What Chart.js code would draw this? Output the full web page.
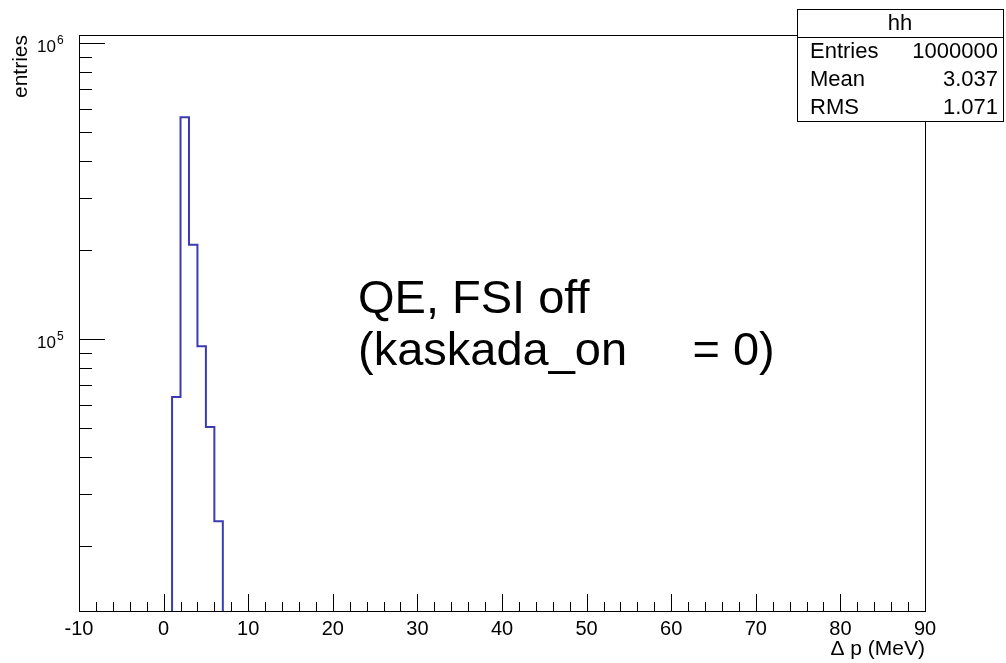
<!DOCTYPE html>
<html>
<head>
<meta charset="utf-8">
<script src="https://cdn.jsdelivr.net/npm/chart.js@4.4.1/dist/chart.umd.min.js"></script>
<style>
    body { margin: 0; background: #fff; }
    canvas { display: block; }
</style>
</head>
<body>
<canvas id="histChart" width="1006" height="663"></canvas>
<script>
// histogram bins (Delta p in MeV) and their contents
const binEdges = [1, 2, 3, 4, 5, 6, 7];
const binCounts = [63700, 561000, 208300, 94500, 50400, 24200];

// axis ranges
const xMin = -10, xMax = 90;
const yMin = 12050, yMax = 1064000;

// stats box
const statTitle = "hh";
const statNames = ["Entries", "Mean", "RMS"];
const statValues = ["1000000", "3.037", "1.071"];

const FONT = "'Liberation Sans', Arial, Helvetica, sans-serif";

// outline of the histogram: up from the frame bottom, across each bin, back down
function histOutline() {
    const pts = [{ x: binEdges[0], y: yMin }];
    binCounts.forEach(function (c, i) {
        pts.push({ x: binEdges[i], y: c });
        pts.push({ x: binEdges[i + 1], y: c });
    });
    pts.push({ x: binEdges[binEdges.length - 1], y: yMin });
    return pts;
}

const rootFrame = {
    id: "rootFrame",
    afterDraw(chart) {
        const ctx = chart.ctx;
        const a = chart.chartArea;
        const xs = chart.scales.x;
        const ys = chart.scales.y;

        ctx.save();
        ctx.strokeStyle = "#000";
        ctx.fillStyle = "#000";
        ctx.lineWidth = 1;

        // frame
        ctx.strokeRect(Math.round(a.left) + 0.5, Math.round(a.top) + 0.5,
            Math.round(a.right - a.left), Math.round(a.bottom - a.top));

        // x ticks, drawn inside the frame
        ctx.beginPath();
        for (let v = xMin; v <= xMax; v += 2) {
            const px = Math.round(xs.getPixelForValue(v)) + 0.5;
            const len = (v % 10 === 0) ? 17 : 9;
            ctx.moveTo(px, a.bottom);
            ctx.lineTo(px, a.bottom - len);
        }
        // y ticks (log)
        for (let d = Math.floor(Math.log10(yMin)); d <= Math.ceil(Math.log10(yMax)); d++) {
            for (let k = 1; k <= 9; k++) {
                const v = k * Math.pow(10, d);
                if (v < yMin || v > yMax) continue;
                const py = Math.round(ys.getPixelForValue(v)) + 0.5;
                const len = (k === 1) ? 26 : 13;
                ctx.moveTo(a.left, py);
                ctx.lineTo(a.left + len, py);
            }
        }
        ctx.stroke();

        // y labels 10^n
        for (let d = Math.ceil(Math.log10(yMin)); d <= Math.floor(Math.log10(yMax)); d++) {
            const py = ys.getPixelForValue(Math.pow(10, d));
            ctx.font = "17px " + FONT;
            ctx.textAlign = "right";
            ctx.textBaseline = "alphabetic";
            ctx.fillText("10", 56, py + 9);
            ctx.font = "12px " + FONT;
            ctx.textAlign = "left";
            ctx.fillText(String(d), 57, py + 1);
        }

        // y title
        ctx.save();
        ctx.translate(27, a.top);
        ctx.rotate(-Math.PI / 2);
        ctx.font = "21px " + FONT;
        ctx.textAlign = "right";
        ctx.fillText("entries", 0, 0);
        ctx.restore();

        // x title
        ctx.font = "21px " + FONT;
        ctx.textAlign = "right";
        ctx.fillText("\u0394 p (MeV)", a.right, 655);

        // annotation
        ctx.font = "47px " + FONT;
        ctx.textAlign = "left";
        ctx.fillText("QE, FSI off", 358, 313);
        ctx.fillText("(kaskada_on     = 0)", 358, 365);

        // stats box
        const bx = 797, by = 9, bw = 206, rowH = 28;
        const bh = rowH * (statNames.length + 1);
        ctx.fillStyle = "#fff";
        ctx.fillRect(bx, by, bw, bh);
        ctx.strokeRect(bx + 0.5, by + 0.5, bw, bh);
        ctx.beginPath();
        ctx.moveTo(bx, by + rowH + 0.5);
        ctx.lineTo(bx + bw, by + rowH + 0.5);
        ctx.stroke();
        ctx.fillStyle = "#000";
        ctx.font = "22px " + FONT;
        ctx.textAlign = "center";
        ctx.fillText(statTitle, bx + bw / 2, by + rowH - 7);
        statNames.forEach(function (name, i) {
            const base = by + rowH * (i + 2) - 7;
            ctx.textAlign = "left";
            ctx.fillText(name, bx + 13, base);
            ctx.textAlign = "right";
            ctx.fillText(statValues[i], bx + bw - 5, base);
        });
        ctx.restore();
    }
};

new Chart(document.getElementById("histChart"), {
    type: "line",
    data: {
        datasets: [{
            label: "hh",
            data: histOutline(),
            borderColor: "#3b3bb3",
            borderWidth: 2,
            pointRadius: 0,
            tension: 0,
            fill: false
        }]
    },
    options: {
        responsive: false,
        animation: false,
        layout: { padding: { top: 35, right: 81, left: 0, bottom: 0 } },
        plugins: {
            legend: { display: false },
            tooltip: { enabled: false }
        },
        scales: {
            x: {
                type: "linear",
                min: xMin,
                max: xMax,
                bounds: "data",
                grid: { display: false, drawTicks: false },
                border: { display: false },
                ticks: {
                    stepSize: 10,
                    autoSkip: false,
                    maxRotation: 0,
                    padding: 6,
                    color: "#000",
                    font: { family: FONT, size: 20 }
                },
                afterFit: function (s) { s.height = 52; }
            },
            y: {
                type: "logarithmic",
                min: yMin,
                max: yMax,
                bounds: "data",
                grid: { display: false, drawTicks: false },
                border: { display: false },
                ticks: { display: false },
                afterFit: function (s) { s.width = 79; }
            }
        }
    },
    plugins: [rootFrame]
});
</script>
</body>
</html>
